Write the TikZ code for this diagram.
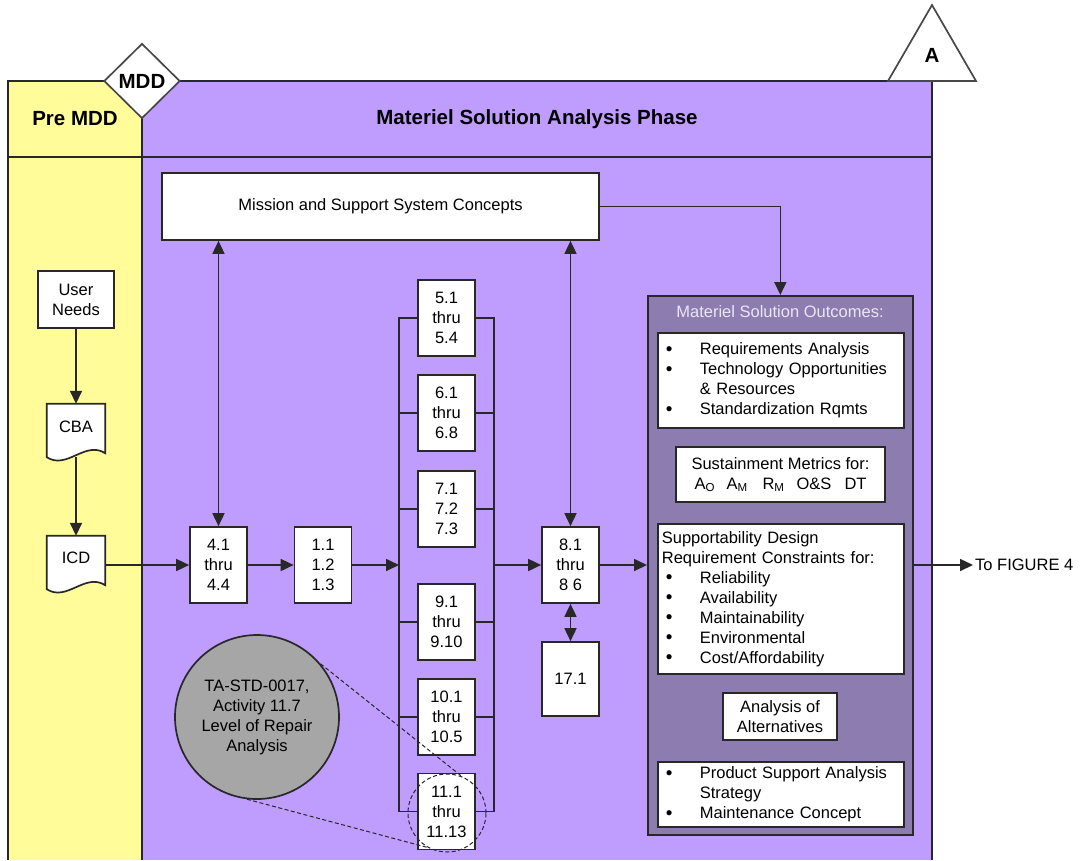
\documentclass[tikz,border=0pt]{standalone}
\usepackage{fontspec}
\setmainfont{Liberation Sans}
\usetikzlibrary{arrows.meta,shapes.geometric}
\definecolor{padyellow}{RGB}{255,252,153}
\definecolor{padpurple}{RGB}{190,157,255}
\definecolor{outpurple}{RGB}{140,124,176}
\definecolor{circgray}{RGB}{166,166,166}
\definecolor{ln}{RGB}{40,40,40}
\definecolor{titlelight}{RGB}{235,230,245}
\newcommand{\bl}{\makebox[34pt][l]{\raisebox{-0.5pt}{\fontsize{19}{20}\selectfont\textbullet}}}
\newcommand{\ind}{\hspace*{34pt}}
\begin{document}
\begin{tikzpicture}[x=1pt,y=-1pt,
  every node/.style={font=\fontsize{16.5}{20}\selectfont},
  hdr/.style={font=\fontsize{20.5}{24}\selectfont\bfseries},
  line/.style={draw=ln,line width=1.7pt},
  box/.style={line,fill=white,inner sep=0pt,align=center,minimum width=57,minimum height=76},
  listbox/.style={line,fill=white,inner xsep=8pt,inner ysep=0pt,align=left,anchor=north west},
  arr/.style={line,-{Triangle[length=13pt,width=12pt]}},
  arrtwo/.style={line,{Triangle[length=13pt,width=12pt]}-{Triangle[length=13pt,width=12pt]}},
  dashedline/.style={draw=ln,line width=1pt,dash pattern=on 4pt off 2.5pt}]
\useasboundingbox (0,0) rectangle (1082,860);
% frame
\fill[padyellow] (8,81) rectangle (142,860);
\fill[padpurple] (142,81) rectangle (932,860);
\draw[line] (8,860) -- (8,81) -- (932,81) -- (932,860);
\draw[line] (142,81) -- (142,860);
\draw[line] (8,157) -- (932,157);
% header items
\node[line,draw=ln!85,fill=white,shape=diamond,inner sep=0pt,minimum width=76,minimum height=75,hdr] (mdd) at (142,81) {MDD};
\coordinate (tA1) at (932,5);
\coordinate (tA2) at (888,81);
\coordinate (tA3) at (976,81);
\draw[line,draw=ln!85,fill=white] (tA1) -- (tA2) -- (tA3) -- cycle;
\node[hdr] (alabel) at (932,55) {A};
\node[hdr] (premdd) at (75,119) {Pre MDD};
\node[hdr] (phase) at (537,119) {Materiel Solution Analysis Phase};
% left column
\node[box,minimum width=76,minimum height=57] (user) at (76,299.5) {User\\Needs};
\node[inner sep=0pt,minimum width=58,minimum height=50] (cbaframe) at (76,429) {};
\node[inner sep=0pt,minimum width=58,minimum height=50] (icdframe) at (76,561) {};
\foreach \d in {cbaframe,icdframe}{
  \draw[line,fill=white] (\d.north west) -- ([yshift=-3pt]\d.south west)
    .. controls +(20,13) and +(-20,-13) .. ([yshift=1pt]\d.south east) -- (\d.north east) -- cycle;
}
\node[inner sep=0pt] (cba) at (76,427) {CBA};
\node[inner sep=0pt] (icd) at (76,558) {ICD};
\draw[arr] (user.south) -- (cbaframe.north);
\draw[arr] ([yshift=-3pt]cbaframe.south) -- (icdframe.north);
% mission
\node[line,fill=white,minimum width=437,minimum height=67,inner sep=0pt] (mission) at (380.5,206.5) {Mission and Support System Concepts};
% main flow
\node[box] (b4) at (218.5,565) {4.1\\thru\\4.4};
\node[box] (b1) at (323,565) {1.1\\1.2\\1.3};
\node[box] (b5) at (446.5,318) {5.1\\thru\\5.4};
\node[box] (b6) at (446.5,413) {6.1\\thru\\6.8};
\node[box] (b7) at (446.5,509) {7.1\\7.2\\7.3};
\node[box] (b9) at (446.5,622) {9.1\\thru\\9.10};
\node[box] (b10) at (446.5,717) {10.1\\thru\\10.5};
\node[box] (b11) at (446.5,811.5) {11.1\\thru\\11.13};
\node[box] (b8) at (570.5,565) {8.1\\thru\\8 6};
\node[box,minimum height=74] (b17) at (570.5,679) {17.1};
\coordinate (busL) at (399,0);
\coordinate (busR) at (494,0);
\draw[line] (b5.west) -- (b5.west -| busL) -- (b11.west -| busL) -- (b11.west);
\draw[line] (b5.east) -- (b5.east -| busR) -- (b11.east -| busR) -- (b11.east);
\foreach \b in {b6,b7,b9,b10}{
  \draw[line] (\b.west) -- (\b.west -| busL);
  \draw[line] (\b.east) -- (\b.east -| busR);
}
\draw[arr] (b4.west -| icdframe.east) -- (b4.west);
\draw[arr] (b4.east) -- (b1.west);
\draw[arr] (b1.east) -- (b1.east -| busL);
\draw[arr] (b8.west -| busR) -- (b8.west);
\draw[arrtwo] (b4.north) -- (b4.north |- mission.south);
\draw[arrtwo] (b8.north) -- (b8.north |- mission.south);
\draw[arrtwo] (b8.south) -- (b17.north);
% outcomes
\node[line,fill=outpurple,minimum width=265,minimum height=539,inner sep=0pt,anchor=north west] (out) at (647,295) {};
\node[text=titlelight] (outtitle) at (780,312) {Materiel Solution Outcomes:};
\draw[arr] (mission.east) -| (out.north);
\draw[arr] (b8.east) -- (b8.east -| out.west);
\node[listbox,minimum width=246,minimum height=95,text width=230] (req) at (657,332)
  {\bl Requirements Analysis\\\bl Technology Opportunities\\\ind \& Resources\\\bl Standardization Rqmts};
\node[line,fill=white,minimum width=209,minimum height=55,inner sep=0pt,align=center] (sust) at (780.5,474.5)
  {Sustainment Metrics for:\\\makebox[32pt][l]{A\textsubscript{O}}\makebox[36pt][l]{A\textsubscript{M}}\makebox[34pt][l]{R\textsubscript{M}}\makebox[48pt][l]{O\&S}DT};
\node[listbox,minimum width=246,minimum height=150,text width=238,inner xsep=4pt] (supp) at (657,523)
  {Supportability Design\\Requirement Constraints for:\\\hspace*{4pt}\bl Reliability\\\hspace*{4pt}\bl Availability\\\hspace*{4pt}\bl Maintainability\\\hspace*{4pt}\bl Environmental\\\hspace*{4pt}\bl Cost/Affordability};
\node[line,fill=white,minimum width=114,minimum height=47,inner sep=0pt,align=center] (aoa) at (780,716.5)
  {Analysis of\\Alternatives};
\node[listbox,minimum width=246,minimum height=65,text width=230] (prod) at (657,761)
  {\bl Product Support Analysis\\\ind Strategy\\\bl Maintenance Concept};
\node[anchor=west,inner sep=2pt] (fig4) at (973,565) {To FIGURE 4};
\draw[arr] (out.east |- fig4.west) -- (fig4.west);
% callout
\node[line,fill=circgray,shape=circle,minimum size=164,inner sep=0pt,align=center] (lora) at (257,717)
  {TA-STD-0017,\\Activity 11.7\\Level of Repair\\Analysis};
\node[dashedline,shape=circle,minimum size=78,inner sep=0pt] (zoomc) at (447,813) {};
\draw[dashedline] (lora.40) -- (zoomc.68);
\draw[dashedline] (lora.-97) -- (zoomc.-119);
\end{tikzpicture}
\end{document}
